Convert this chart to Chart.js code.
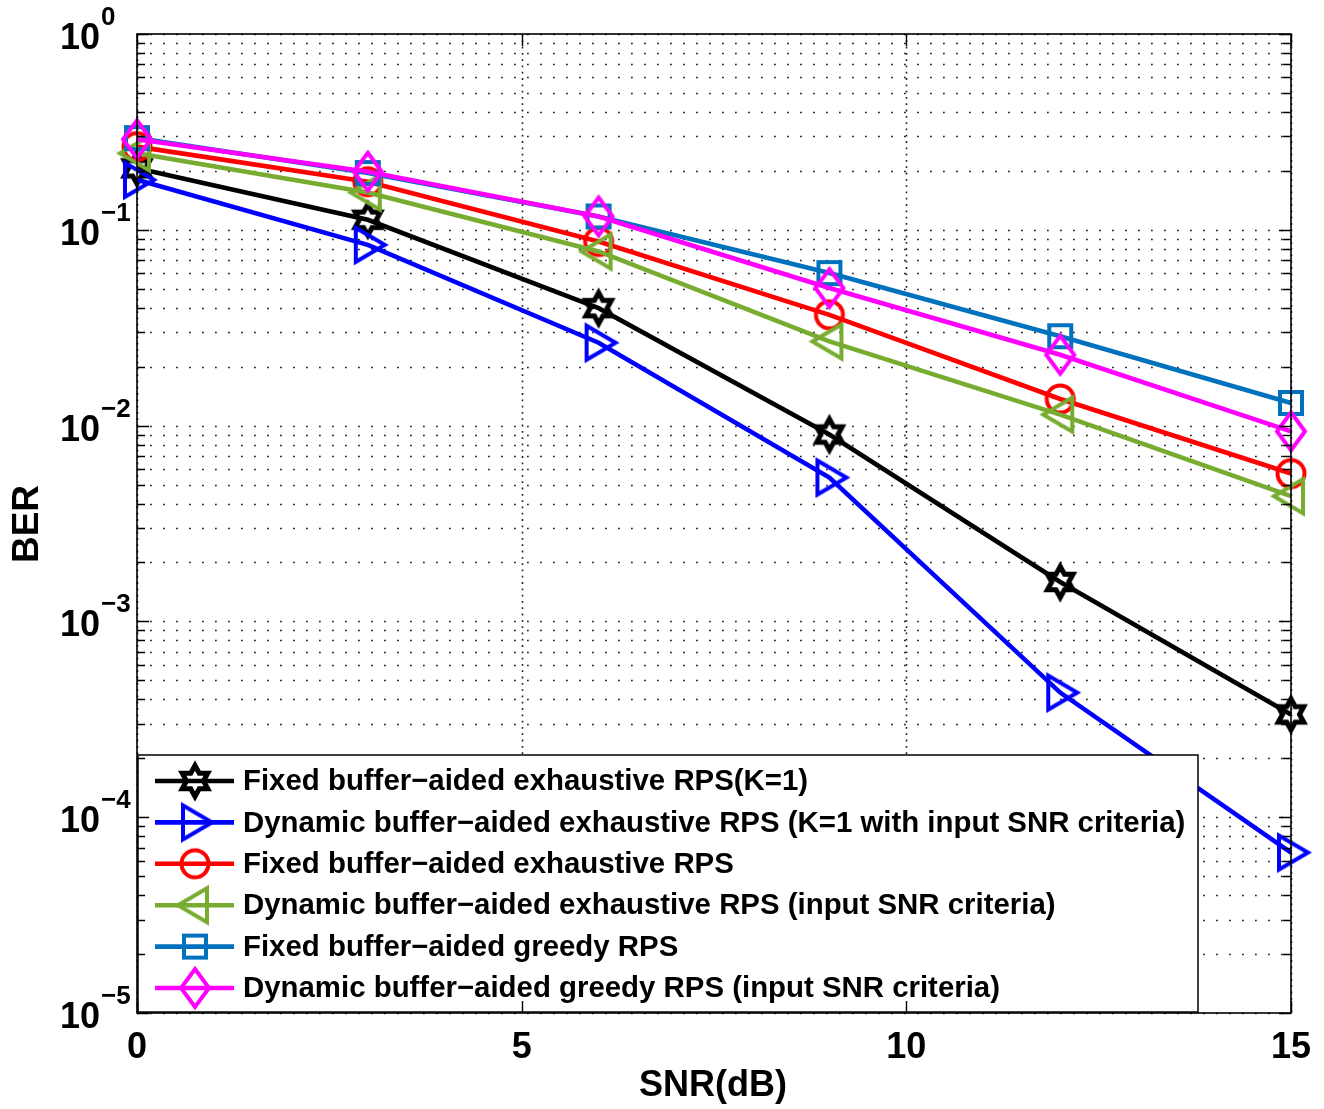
<!DOCTYPE html>
<html>
<head>
<meta charset="utf-8">
<script src="https://cdn.jsdelivr.net/npm/chart.js@4/dist/chart.umd.min.js"></script>
<style>
  html, body { margin: 0; padding: 0; background: #fff; }
  #wrap { width: 1324px; height: 1109px; }
</style>
</head>
<body>
<div id="wrap"><canvas id="ber" width="1324" height="1109"></canvas></div>
<script>
// data
const snr = [0, 3, 6, 9, 12, 15];
const berFixedExhK1  = [0.206, 0.1125, 0.0398, 0.0090, 0.00159, 3.35e-4];
const berDynExhK1    = [0.180, 0.0838, 0.0265, 0.00543, 4.33e-4, 6.6e-5];
const berFixedExh    = [0.266, 0.176, 0.0871, 0.0368, 0.01368, 0.00569];
const berDynExh      = [0.246, 0.155, 0.0775, 0.0269, 0.01138, 0.00436];
const berFixedGreedy = [0.294, 0.195, 0.117, 0.0601, 0.0286, 0.01305];
const berDynGreedy   = [0.290, 0.198, 0.117, 0.0504, 0.0230, 0.00935];

const labels = [
  'Fixed buffer\u2212aided exhaustive RPS(K=1)',
  'Dynamic buffer\u2212aided exhaustive RPS (K=1 with input SNR criteria)',
  'Fixed buffer\u2212aided exhaustive RPS',
  'Dynamic buffer\u2212aided exhaustive RPS (input SNR criteria)',
  'Fixed buffer\u2212aided greedy RPS',
  'Dynamic buffer\u2212aided greedy RPS (input SNR criteria)'
];
const xTicks = [0, 5, 10, 15];
const yDecades = [0, -1, -2, -3, -4, -5];

const FONT = '"Liberation Sans", Arial, sans-serif';

function makeMarker(kind, color){
  const s = 48;
  const c = document.createElement('canvas');
  c.width = s; c.height = s;
  const g = c.getContext('2d');
  g.translate(s/2, s/2);
  g.strokeStyle = color;
  g.lineWidth = 4;
  g.lineJoin = 'miter';
  g.beginPath();
  if(kind === 'hexagram'){
    const R = 15.5, r = R/Math.sqrt(3);
    g.lineWidth = 5;
    for(let i=0;i<12;i++){
      const a = -Math.PI/2 + i*Math.PI/6;
      const rr = (i%2===0) ? R : r;
      const px = rr*Math.cos(a)*0.95, py = rr*Math.sin(a);
      if(i===0) g.moveTo(px,py); else g.lineTo(px,py);
    }
  } else if(kind === 'triRight'){
    g.moveTo(-12,-17); g.lineTo(17,0); g.lineTo(-12,17);
  } else if(kind === 'triLeft'){
    g.moveTo(12,-17); g.lineTo(-17,0); g.lineTo(12,17);
  } else if(kind === 'circle'){
    g.arc(0,0,13.5,0,Math.PI*2);
  } else if(kind === 'square'){
    g.rect(-11,-11,22,22);
  } else if(kind === 'diamond'){
    g.moveTo(0,-19); g.lineTo(14,0); g.lineTo(0,19); g.lineTo(-14,0);
  }
  g.closePath();
  g.stroke();
  return c;
}

const series = [berFixedExhK1, berDynExhK1, berFixedExh, berDynExh, berFixedGreedy, berDynGreedy];
const colors = ['#000000', '#0000ff', '#ff0000', '#77ac30', '#0072bd', '#ff00ff'];
const kinds = ['hexagram', 'triRight', 'circle', 'triLeft', 'square', 'diamond'];

const datasets = series.map((vals, i) => {
  const mk = makeMarker(kinds[i], colors[i]);
  return {
    label: labels[i],
    data: snr.map((x, j) => ({x: x, y: vals[j]})),
    borderColor: colors[i],
    backgroundColor: colors[i],
    borderWidth: 4.6,
    tension: 0,
    pointStyle: mk,
    pointRadius: 12,
    pointHoverRadius: 12,
    clip: false,
    order: 5 - i,
    _marker: mk
  };
});

const axesPlugin = {
  id: 'matlabAxes',
  beforeDatasetsDraw(chart){
    const {ctx, chartArea: a, scales: {x, y}} = chart;
    ctx.save();
    // dotted grid
    ctx.strokeStyle = '#222';
    ctx.lineWidth = 1.6;
    ctx.setLineDash([1.8, 11.2]);
    yDecades.forEach(e => {
      for(let m=1;m<=9;m++){
        const v = m*Math.pow(10,e);
        if(v > 1.0001) continue;
        const py = Math.round(y.getPixelForValue(v)) + 0.5;
        ctx.beginPath(); ctx.moveTo(a.left, py); ctx.lineTo(a.right, py); ctx.stroke();
      }
    });
    ctx.setLineDash([1.8, 4.5]);
    xTicks.forEach(t => {
      const px = Math.round(x.getPixelForValue(t)) + 0.5;
      ctx.beginPath(); ctx.moveTo(px, a.top); ctx.lineTo(px, a.bottom); ctx.stroke();
    });
    ctx.setLineDash([]);
    ctx.restore();
  },
  afterDatasetsDraw(chart){
    const {ctx, chartArea: a, scales: {x, y}} = chart;
    ctx.save();
    // legend box
    const lx = 138, ly = 755, lw = 1060, lh = 257;
    ctx.fillStyle = '#fff';
    ctx.fillRect(lx, ly, lw, lh);
    ctx.strokeStyle = '#000';
    ctx.lineWidth = 1.5;
    ctx.strokeRect(lx, ly, lw, lh);
    chart.data.datasets.forEach((ds, i) => {
      const ry = 781 + i*41.4;
      ctx.strokeStyle = ds.borderColor;
      ctx.lineWidth = 4.6;
      ctx.beginPath(); ctx.moveTo(155, ry); ctx.lineTo(234, ry); ctx.stroke();
      const mk = ds._marker;
      ctx.drawImage(mk, 195 - mk.width/2, ry - mk.height/2);
      ctx.fillStyle = '#000';
      ctx.font = 'bold 29.4px ' + FONT;
      ctx.textAlign = 'left';
      ctx.textBaseline = 'middle';
      ctx.fillText(ds.label, 243, ry + 1);
    });

    // axes box
    ctx.strokeStyle = '#000';
    ctx.lineWidth = 1.6;
    ctx.strokeRect(a.left, a.top, a.right - a.left, a.bottom - a.top);
    // y ticks (inside, left and right)
    ctx.lineWidth = 1.4;
    yDecades.forEach(e => {
      for(let m=1;m<=9;m++){
        const v = m*Math.pow(10,e);
        if(v > 1.0001) continue;
        const py = Math.round(y.getPixelForValue(v)) + 0.5;
        const len = (m === 1) ? 12 : 8;
        ctx.beginPath();
        ctx.moveTo(a.left, py); ctx.lineTo(a.left + len, py);
        ctx.moveTo(a.right, py); ctx.lineTo(a.right - len, py);
        ctx.stroke();
      }
    });
    xTicks.forEach(t => {
      const px = Math.round(x.getPixelForValue(t)) + 0.5;
      ctx.beginPath();
      ctx.moveTo(px, a.bottom); ctx.lineTo(px, a.bottom - 12);
      ctx.moveTo(px, a.top); ctx.lineTo(px, a.top + 12);
      ctx.stroke();
    });

    // tick labels
    ctx.fillStyle = '#000';
    ctx.textBaseline = 'alphabetic';
    yDecades.forEach(e => {
      const py = y.getPixelForValue(Math.pow(10,e));
      ctx.font = 'bold 36px ' + FONT;
      ctx.textAlign = 'left';
      ctx.fillText('10', 60, py + 15);
      ctx.font = 'bold 26px ' + FONT;
      ctx.fillText(e === 0 ? '0' : '\u2212' + (-e), 101, py - 9);
    });
    ctx.font = 'bold 36px ' + FONT;
    ctx.textAlign = 'center';
    xTicks.forEach(t => {
      ctx.fillText(String(t), x.getPixelForValue(t), 1058);
    });

    // axis titles
    ctx.fillText('SNR(dB)', 713, 1096);
    ctx.save();
    ctx.translate(38, 524);
    ctx.rotate(-Math.PI/2);
    ctx.font = 'bold 37px ' + FONT;
    ctx.textAlign = 'center';
    ctx.fillText('BER', 0, 0);
    ctx.restore();
    ctx.restore();
  }
};

new Chart(document.getElementById('ber'), {
  type: 'line',
  data: { datasets: datasets },
  options: {
    responsive: false,
    animation: false,
    events: [],
    layout: { padding: { left: 137, right: 33, top: 34, bottom: 96 } },
    plugins: { legend: { display: false }, tooltip: { enabled: false } },
    scales: {
      x: { type: 'linear', min: 0, max: 15, display: false },
      y: { type: 'logarithmic', min: 1e-5, max: 1, display: false }
    }
  },
  plugins: [axesPlugin]
});
</script>
</body>
</html>
